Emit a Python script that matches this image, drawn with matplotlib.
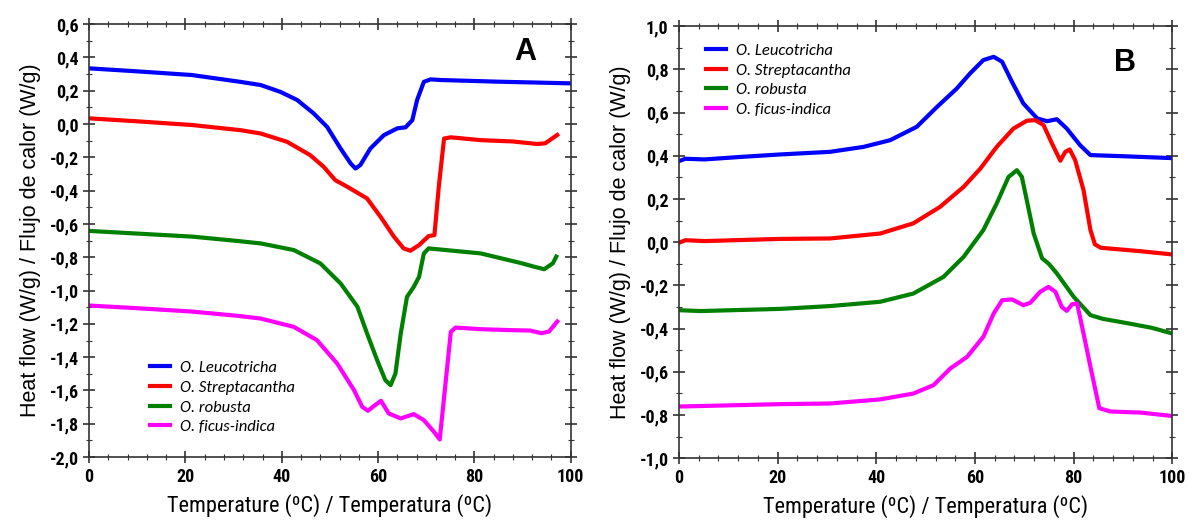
import matplotlib
matplotlib.use("Agg")
import matplotlib.pyplot as plt
from matplotlib.ticker import MultipleLocator, FuncFormatter

# ---- Panel A: temperature (ºC) and heat flow (W/g) ----
a_leu_t = [0, 10, 21.3, 31.4, 35.6, 39.7, 43.2, 46.6, 49.4, 52.2, 54.3, 55.3, 56.3, 58.4, 61.2, 64, 65.7, 67.1, 68.1, 69.5, 70.9, 73, 85, 100]
a_leu_v = [0.334, 0.316, 0.294, 0.253, 0.234, 0.193, 0.144, 0.064, -0.017, -0.147, -0.237, -0.267, -0.247, -0.147, -0.067, -0.026, -0.02, 0.023, 0.144, 0.253, 0.268, 0.264, 0.254, 0.244]

a_str_t = [0, 10, 21.3, 31.4, 35.6, 41.1, 45.9, 48.7, 51.1, 53.6, 57.7, 60.5, 63.3, 65.3, 66.7, 68.5, 70.5, 71.7, 72.6, 73.7, 75.1, 81.3, 88, 93, 94.7, 97.2]
a_str_v = [0.034, 0.016, -0.006, -0.037, -0.057, -0.107, -0.187, -0.257, -0.337, -0.377, -0.447, -0.557, -0.677, -0.747, -0.761, -0.727, -0.673, -0.667, -0.377, -0.087, -0.08, -0.097, -0.105, -0.12, -0.116, -0.066]

a_rob_t = [0, 10, 21.3, 30, 35.6, 42.5, 48, 52.2, 55.7, 57.7, 59.8, 61.5, 62.6, 63.6, 64.7, 66, 67.4, 68.5, 69.5, 70.5, 81.3, 89.8, 92.3, 94.5, 96.3, 97]
a_rob_v = [-0.642, -0.658, -0.676, -0.7, -0.717, -0.757, -0.837, -0.957, -1.097, -1.257, -1.418, -1.538, -1.568, -1.498, -1.258, -1.038, -0.978, -0.918, -0.777, -0.747, -0.777, -0.836, -0.856, -0.872, -0.836, -0.796]

a_fic_t = [0, 10, 21.3, 30.9, 35.6, 42.5, 47.3, 51.5, 55, 56.7, 57.9, 59.1, 60.6, 62.2, 64.7, 67.4, 69.5, 71.6, 72.8, 74, 75.1, 76.1, 81.3, 88, 91.5, 93.9, 95.5, 97.2]
a_fic_v = [-1.09, -1.106, -1.126, -1.152, -1.168, -1.218, -1.298, -1.438, -1.598, -1.698, -1.722, -1.694, -1.662, -1.738, -1.768, -1.742, -1.778, -1.848, -1.894, -1.558, -1.248, -1.222, -1.232, -1.238, -1.24, -1.256, -1.246, -1.186]

# ---- Panel B ----
b_leu_t = [0, 1.3, 5.2, 12.8, 20.5, 30.6, 37.4, 42.8, 48.2, 52.3, 56.3, 59, 61.7, 63.8, 65.5, 67.5, 69.8, 72.6, 74.6, 76.6, 78.6, 81.3, 83.4, 89.8, 100]
b_leu_v = [0.375, 0.386, 0.383, 0.395, 0.406, 0.418, 0.441, 0.472, 0.534, 0.626, 0.711, 0.781, 0.843, 0.858, 0.835, 0.742, 0.642, 0.573, 0.56, 0.569, 0.526, 0.449, 0.403, 0.398, 0.389]

b_str_t = [0, 1.3, 5.2, 20.5, 30.6, 40.8, 47.5, 52.9, 57.7, 61.1, 64.4, 67.8, 70.5, 72.2, 73.9, 75.6, 77.3, 78.3, 79.2, 80.3, 82, 83.4, 84.3, 85.5, 93.6, 100]
b_str_v = [-0.003, 0.009, 0.005, 0.015, 0.017, 0.04, 0.087, 0.163, 0.256, 0.341, 0.441, 0.526, 0.562, 0.565, 0.542, 0.457, 0.377, 0.418, 0.429, 0.38, 0.241, 0.056, -0.01, -0.026, -0.042, -0.057]

b_rob_t = [0, 4.4, 20.5, 30.6, 40.8, 47.5, 53.6, 57.7, 61.7, 64.4, 66.8, 68.5, 69.5, 70.5, 71.9, 73.6, 74.9, 76.6, 80, 83.4, 85.9, 91.3, 95.9, 100]
b_rob_v = [-0.315, -0.319, -0.309, -0.296, -0.276, -0.238, -0.161, -0.068, 0.056, 0.179, 0.302, 0.333, 0.302, 0.194, 0.04, -0.075, -0.099, -0.145, -0.253, -0.338, -0.355, -0.377, -0.397, -0.423]

b_fic_t = [0, 20.5, 30.6, 40.8, 47.5, 51.6, 55, 58.4, 61.7, 63.8, 65.5, 67.5, 69.8, 71.2, 73.2, 74.9, 76.3, 77.6, 78.6, 79.7, 80.7, 82, 83.4, 85.2, 87.5, 93.6, 100]
b_fic_v = [-0.761, -0.75, -0.747, -0.728, -0.701, -0.662, -0.585, -0.531, -0.438, -0.33, -0.269, -0.265, -0.292, -0.281, -0.23, -0.207, -0.23, -0.3, -0.318, -0.287, -0.284, -0.423, -0.577, -0.769, -0.784, -0.789, -0.805]

species = ['O. Leucotricha', 'O. Streptacantha', 'O. robusta', 'O. ficus-indica']
colors = ['#0000FF', '#FF0000', '#008000', '#FF00FF']

narrow = ['Roboto Condensed', 'DejaVu Sans']
arial = ['Liberation Sans', 'DejaVu Sans']
comma = FuncFormatter(lambda v, p: f"{v:.1f}".replace('.', ','))

fig = plt.figure(figsize=(11.89, 5.23), dpi=100)
axA = fig.add_axes([0.075, 0.126, 0.405, 0.828])
axB = fig.add_axes([0.571, 0.124, 0.415, 0.826])

panels = [
    (axA, [(a_leu_t, a_leu_v), (a_str_t, a_str_v), (a_rob_t, a_rob_v), (a_fic_t, a_fic_v)],
     (-2.0, 0.6), 'A', 0.935, 'lower left', (0.095, 0.018)),
    (axB, [(b_leu_t, b_leu_v), (b_str_t, b_str_v), (b_rob_t, b_rob_v), (b_fic_t, b_fic_v)],
     (-1.0, 1.0), 'B', 0.914, 'upper left', (0.025, 0.995)),
]

for ax, series, ylim, tag, tag_y, loc, anchor in panels:
    for (t, v), name, c in zip(series, species, colors):
        ax.plot(t, v, color=c, lw=3, label=name, solid_joinstyle='round')
    ax.set_xlim(0, 100)
    ax.set_ylim(*ylim)
    ax.xaxis.set_major_locator(MultipleLocator(20))
    ax.xaxis.set_minor_locator(MultipleLocator(4))
    ax.yaxis.set_major_locator(MultipleLocator(0.2))
    ax.yaxis.set_minor_locator(MultipleLocator(0.1))
    ax.yaxis.set_major_formatter(comma)
    ax.tick_params(which='major', direction='inout', length=8, width=1.2,
                   top=True, right=True, color='#333333')
    ax.tick_params(which='minor', direction='inout', length=4, width=0.8,
                   top=True, right=True, color='#333333')
    for lab in ax.get_xticklabels() + ax.get_yticklabels():
        lab.set_family(narrow)
        lab.set_fontweight('bold')
        lab.set_fontsize(13)
    for s in ax.spines.values():
        s.set_color('#333333')
        s.set_linewidth(1.2)
    ax.set_xlabel('Temperature (ºC) / Temperatura (ºC)', family=narrow, fontsize=16, labelpad=6)
    ax.set_ylabel('Heat flow (W/g) / Flujo de calor (W/g)', family=arial, fontsize=15.5, labelpad=6)
    ax.text(0.905, tag_y, tag, transform=ax.transAxes, ha='center', va='center',
            fontsize=22, fontweight='bold', family=arial)
    leg = ax.legend(loc=loc, bbox_to_anchor=anchor, frameon=False, handlelength=1.2,
                    handletextpad=0.6, labelspacing=0.3,
                    prop={'family': ['Carlito', 'DejaVu Sans'], 'style': 'italic', 'size': 12})
    for h in leg.get_lines():
        h.set_linewidth(3)

fig.savefig('out.png', dpi=100)
